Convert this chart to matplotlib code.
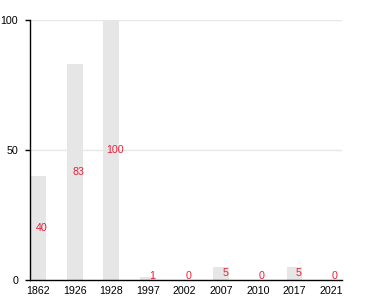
import matplotlib
matplotlib.use("Agg")
import matplotlib.pyplot as plt
from matplotlib.transforms import offset_copy

years = ["1862", "1926", "1928", "1997", "2002", "2007", "2010", "2017", "2021"]
values = [40, 83, 100, 1, 0, 5, 0, 5, 0]
yticks = [0, 50, 100]

plt.rcParams['font.family'] = ['Liberation Sans', 'DejaVu Sans']

fig = plt.figure(figsize=(3.8, 3.0), dpi=100)
ax = fig.add_axes([30/380, 20/300, (342-30)/380, 260/300])

x = list(range(len(years)))
ax.bar(x, values, width=0.43, color='#e6e6e6', zorder=2)
ax.set_xlim(-0.22, 8.3)
ax.set_ylim(0, 100)
ax.set_xticks(x)
ax.set_xticklabels(years)
ax.set_yticks(yticks)
for yv in yticks[1:]:
    ax.axhline(yv, color='#e6e6e6', lw=1, zorder=1)

ax.tick_params(axis='x', length=0, pad=4, labelsize=7.7)
ax.tick_params(axis='y', length=3.6, width=1, pad=5, labelsize=7.7)
for s in ['top', 'right']:
    ax.spines[s].set_visible(False)
ax.spines['left'].set_linewidth(1)
ax.spines['bottom'].set_linewidth(1)

trans = offset_copy(ax.transData, fig=fig, x=4, y=0, units='dots')
for xi, v in zip(x, values):
    ax.text(xi, max(v / 2, 1.5), str(v), color='#e8203a', fontsize=7.7,
            ha='center', va='center', transform=trans, zorder=3)

fig.savefig("out.png", dpi=100)
